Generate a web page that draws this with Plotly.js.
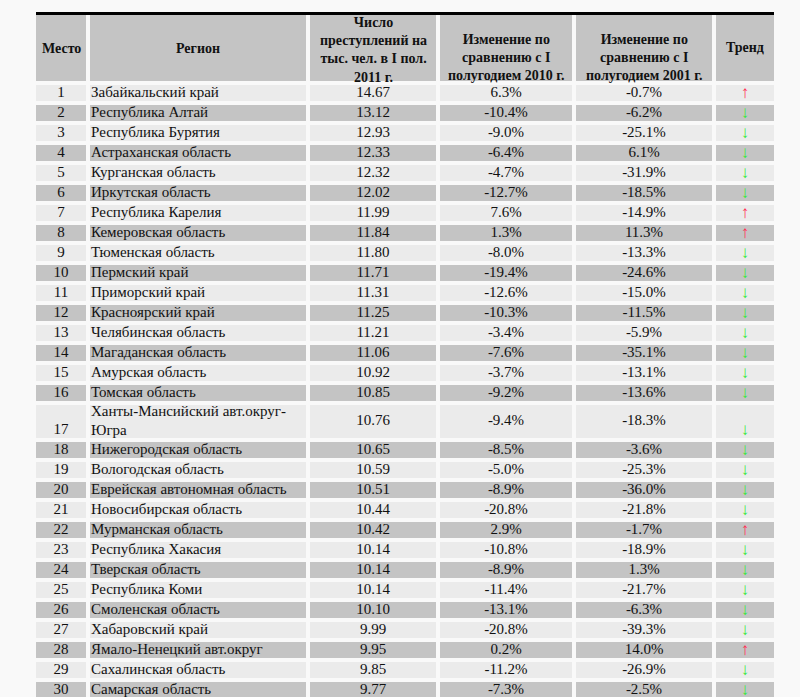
<!DOCTYPE html>
<html>
<head>
<meta charset="utf-8">
<script src="https://cdn.plot.ly/plotly-3.0.1.min.js"></script>
<style>
  html, body { margin: 0; padding: 0; background: #f9f9f9; }
  #myDiv { width: 800px; height: 697px; }
</style>
</head>
<body>
<div id="myDiv"></div>
<script>
//  ======== DATA ========
var places = [1, 2, 3, 4, 5, 6, 7, 8, 9, 10, 11, 12, 13, 14, 15, 16, 17, 18, 19, 20, 21, 22, 23, 24, 25, 26, 27, 28, 29, 30];

var regions = [
  'Забайкальский край', 'Республика Алтай', 'Республика Бурятия', 'Астраханская область',
  'Курганская область', 'Иркутская область', 'Республика Карелия', 'Кемеровская область',
  'Тюменская область', 'Пермский край', 'Приморский край', 'Красноярский край',
  'Челябинская область', 'Магаданская область', 'Амурская область', 'Томская область',
  'Ханты-Мансийский авт.округ-<br>Югра', 'Нижегородская область', 'Вологодская область',
  'Еврейская автономная область', 'Новосибирская область', 'Мурманская область',
  'Республика Хакасия', 'Тверская область', 'Республика Коми', 'Смоленская область',
  'Хабаровский край', 'Ямало-Ненецкий авт.округ', 'Сахалинская область', 'Самарская область'
];

var crimeRate = [14.67, 13.12, 12.93, 12.33, 12.32, 12.02, 11.99, 11.84, 11.80, 11.71,
  11.31, 11.25, 11.21, 11.06, 10.92, 10.85, 10.76, 10.65, 10.59, 10.51,
  10.44, 10.42, 10.14, 10.14, 10.14, 10.10, 9.99, 9.95, 9.85, 9.77];

var change2010 = [6.3, -10.4, -9.0, -6.4, -4.7, -12.7, 7.6, 1.3, -8.0, -19.4,
  -12.6, -10.3, -3.4, -7.6, -3.7, -9.2, -9.4, -8.5, -5.0, -8.9,
  -20.8, 2.9, -10.8, -8.9, -11.4, -13.1, -20.8, 0.2, -11.2, -7.3];

var change2001 = [-0.7, -6.2, -25.1, 6.1, -31.9, -18.5, -14.9, 11.3, -13.3, -24.6,
  -15.0, -11.5, -5.9, -35.1, -13.1, -13.6, -18.3, -3.6, -25.3, -36.0,
  -21.8, -1.7, -18.9, 1.3, -21.7, -6.3, -39.3, 14.0, -26.9, -2.5];

var trend = ['up', 'down', 'down', 'down', 'down', 'down', 'up', 'up', 'down', 'down',
  'down', 'down', 'down', 'down', 'down', 'down', 'down', 'down', 'down', 'down',
  'down', 'up', 'down', 'down', 'down', 'down', 'down', 'up', 'down', 'down'];

var headers = [
  'Место',
  'Регион',
  'Число<br>преступлений на<br>тыс. чел. в I пол.<br>2011 г.',
  'Изменение по<br>сравнению с I<br>полугодием 2010 г.',
  'Изменение по<br>сравнению с I<br>полугодием 2001 г.',
  'Тренд'
];

//  ======== LAYOUT GEOMETRY (pixels) ========
var colEdges = [34, 88, 308, 438, 574, 714, 776];
var headerTop = 13, headerHeight = 70, rowHeight = 20, tallRowHeight = 37;
var headerShift = [0, 0, 2, 9, 9, -1];   // header text offsets from cell centre
var font = 'Liberation Serif, Times New Roman, serif';

// row edges built from row heights (row 17 wraps onto two lines)
var rowEdges = [headerTop, headerTop + headerHeight];
for (var i = 0; i < places.length; i++) {
  var h = regions[i].indexOf('<br>') >= 0 ? tallRowHeight : rowHeight;
  rowEdges.push(rowEdges[rowEdges.length - 1] + h);
}

// alternating fill, header grey
var z = [];
for (var r = 0; r <= places.length; r++) {
  var shade = (r == 0 || r % 2 == 0) ? 1 : 0;
  z.push(colEdges.slice(1).map(function() { return shade; }));
}

function colCenter(c) { return (colEdges[c] + colEdges[c + 1]) / 2; }
function rowCenter(i) { return (rowEdges[i + 1] + rowEdges[i + 2]) / 2; }
function rowBottomLine(i) { return rowEdges[i + 2] - rowHeight / 2; }

var cy = places.map(function(p, i) { return rowCenter(i); });
var by = places.map(function(p, i) { return rowBottomLine(i); });
function repeat(v) { return places.map(function() { return v; }); }

var plotData = [];

plotData.push({
  type: 'heatmap',
  x: colEdges,
  y: rowEdges,
  z: z,
  zmin: 0,
  zmax: 1,
  colorscale: [[0, '#ebebeb'], [1, '#c4c4c4']],
  showscale: false,
  xgap: 4,
  ygap: 4,
  hoverinfo: 'skip'
});

function textTrace(x, y, text, pos, color, size) {
  return {
    type: 'scatter',
    mode: 'text',
    x: x,
    y: y,
    text: text,
    textposition: pos,
    textfont: {family: font, size: size || 15, color: color || '#111111'},
    hoverinfo: 'skip',
    cliponaxis: true,
    showlegend: false
  };
}

plotData.push(textTrace(repeat(colCenter(0)), by, places.map(String), 'middle center'));
plotData.push(textTrace(repeat(colEdges[1] + 3), cy, regions, 'middle right'));
plotData.push(textTrace(repeat(colCenter(2)), cy, crimeRate.map(function(v) { return v.toFixed(2); }), 'middle center'));
plotData.push(textTrace(repeat(colCenter(3)), cy, change2010.map(function(v) { return v.toFixed(1) + '%'; }), 'middle center'));
plotData.push(textTrace(repeat(colCenter(4)), cy, change2001.map(function(v) { return v.toFixed(1) + '%'; }), 'middle center'));
plotData.push(textTrace(repeat(colCenter(5)), by.map(function(v) { return v + 1; }),
  trend.map(function(t) { return t == 'up' ? '↑' : '↓'; }), 'middle center',
  trend.map(function(t) { return t == 'up' ? '#ff2a4f' : '#3ae83a'; }), 17));

var annotations = headers.map(function(h, c) {
  return {
    x: colCenter(c),
    y: headerTop + headerHeight / 2 + headerShift[c],
    xref: 'x', yref: 'y',
    text: '<b>' + h + '</b>',
    showarrow: false,
    align: 'center',
    font: {family: font, size: 14, color: '#111111'}
  };
});

var layout = {
  width: 800,
  height: 697,
  margin: {l: 0, r: 0, t: 0, b: 0, pad: 0},
  paper_bgcolor: '#f9f9f9',
  plot_bgcolor: '#f9f9f9',
  showlegend: false,
  xaxis: {range: [0, 800], visible: false, fixedrange: true},
  yaxis: {range: [697, 0], visible: false, fixedrange: true},
  annotations: annotations,
  shapes: [{
    type: 'line',
    xref: 'x', yref: 'y',
    x0: colEdges[0] + 2, x1: colEdges[colEdges.length - 1] - 2,
    y0: headerTop + 0.5, y1: headerTop + 0.5,
    line: {color: '#000000', width: 3}
  }]
};

Plotly.newPlot('myDiv', plotData, layout, {displayModeBar: false, staticPlot: true});
</script>
</body>
</html>
